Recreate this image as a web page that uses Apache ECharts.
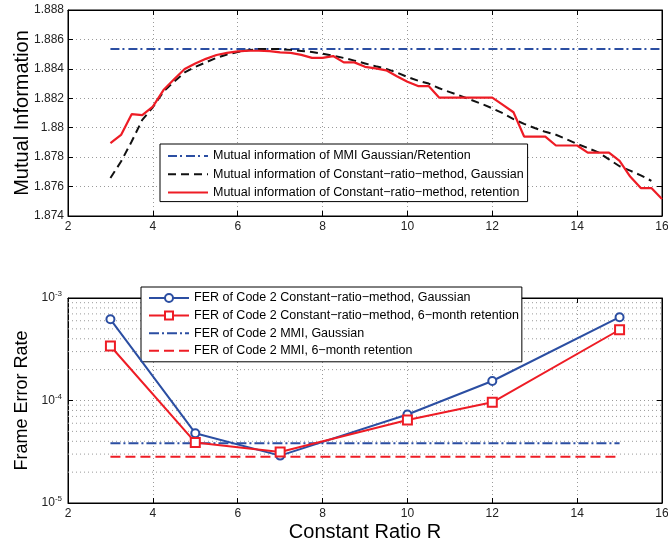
<!DOCTYPE html>
<html>
<head>
<meta charset="utf-8">
<script src="https://cdn.jsdelivr.net/npm/echarts@6/dist/echarts.min.js"></script>
<style>
  html, body { margin: 0; padding: 0; background: #fff; }
  #chart { width: 668px; height: 546px; }
</style>
</head>
<body>
<div id="chart"></div>
<script>
// top plot: mutual information vs constant ratio R (step 0.25)
const miX = [3, 3.25, 3.5, 3.75, 4, 4.25, 4.5, 4.75, 5, 5.25, 5.5, 5.75, 6, 6.25, 6.5, 6.75, 7, 7.25, 7.5, 7.75,
  8, 8.25, 8.5, 8.75, 9, 9.25, 9.5, 9.75, 10, 10.25, 10.5, 10.75, 11, 11.25, 11.5, 11.75, 12, 12.25, 12.5, 12.75,
  13, 13.25, 13.5, 13.75, 14, 14.25, 14.5, 14.75, 15, 15.25, 15.5, 15.75, 16]
const miRetention = [1.87895, 1.87951, 1.88092, 1.88085, 1.88143, 1.88256, 1.88329, 1.88399, 1.88437, 1.88468,
  1.88494, 1.88509, 1.88519, 1.88523, 1.88523, 1.8852, 1.88512, 1.88509, 1.88495, 1.88475,
  1.88475, 1.88487, 1.88444, 1.88444, 1.88414, 1.88403, 1.8839, 1.8835, 1.88313, 1.88283,
  1.88283, 1.88204, 1.88204, 1.88204, 1.88204, 1.88204, 1.88204, 1.88155, 1.88105, 1.8794,
  1.8794, 1.8794, 1.87879, 1.87879, 1.87879, 1.87831, 1.87831, 1.87831, 1.87775, 1.87668,
  1.8759, 1.8759, 1.87516]
const miGaussian = [1.87658, 1.8777, 1.87906, 1.88053, 1.88139, 1.88245, 1.88313, 1.88376, 1.88414, 1.88444,
  1.88475, 1.88498, 1.88514, 1.88527, 1.88535, 1.88536, 1.88534, 1.88529, 1.88522, 1.88514,
  1.88503, 1.88489, 1.88474, 1.88456, 1.88437, 1.88418, 1.884, 1.88375, 1.88345, 1.8832,
  1.883, 1.88268, 1.88242, 1.88216, 1.88189, 1.88162, 1.88132, 1.88098, 1.88058, 1.88026,
  1.87998, 1.87972, 1.87952, 1.87922, 1.8789, 1.87862, 1.87832, 1.87785, 1.87738, 1.87708,
  1.87676, 1.87639]
const miMmiX = [3, 16]
const miMmi = [1.88535, 1.88535]

// bottom plot: frame error rate
const ferX = [3, 5, 7, 10, 12, 15]
const ferGaussian = [6.2e-4, 4.8e-5, 2.9e-5, 7.3e-5, 1.55e-4, 6.5e-4]
const ferRetention = [3.4e-4, 3.9e-5, 3.15e-5, 6.45e-5, 9.6e-5, 4.9e-4]
const ferMmiX = [3, 15]
const ferMmiGaussian = [3.82e-5, 3.82e-5]
const ferMmiRetention = [2.83e-5, 2.83e-5]
// log-axis minor grid (2..9 per decade)
const ferMinorTicks = [2e-5, 3e-5, 4e-5, 5e-5, 6e-5, 7e-5, 8e-5, 9e-5, 2e-4, 3e-4, 4e-4, 5e-4, 6e-4, 7e-4, 8e-4, 9e-4]
const xRange = [2, 16]

const names = {
  miMmi: 'Mutual information of MMI Gaussian/Retention',
  miGauss: 'Mutual information of Constant\u2212ratio\u2212method, Gaussian',
  miRet: 'Mutual information of Constant\u2212ratio\u2212method, retention',
  ferGauss: 'FER of Code 2 Constant\u2212ratio\u2212method, Gaussian',
  ferRet: 'FER of Code 2 Constant\u2212ratio\u2212method, 6\u2212month retention',
  ferMmiGauss: 'FER of Code 2 MMI, Gaussian',
  ferMmiRet: 'FER of Code 2 MMI, 6\u2212month retention'
}

const FONT = '"Liberation Sans", Arial, Helvetica, sans-serif'
const BLUE = '#2b4ea2'
const RED = '#ee1c25'
const BLACK = '#111111'
const GRIDC = '#9a9a9a'

const zip = (xs, ys) => ys.map((y, i) => [xs[i], y])

const chart = echarts.init(document.getElementById('chart'))

const axisLine = { lineStyle: { color: '#000', width: 1 } }
const tick = { inside: true, length: 5, lineStyle: { color: '#000' } }
const grid = { show: true, lineStyle: { color: GRIDC, type: [1, 3], width: 1 } }
const label = { color: '#222', fontSize: 12, fontFamily: FONT }
const legendText = { fontSize: 12.5, lineHeight: 14, color: '#000', fontFamily: FONT }

function mirrorX(gridIndex) {
  return {
    gridIndex, type: 'value', min: 2, max: 16, interval: 2, position: 'top',
    axisLine, axisTick: tick, axisLabel: { show: false }, splitLine: { show: false }
  }
}

// dotted minor grid lines for the log axis, one thin series each
const minorGrid = ferMinorTicks.map((v) => ({
  type: 'line', xAxisIndex: 2, yAxisIndex: 2, symbol: 'none', silent: true, z: 1,
  lineStyle: { color: GRIDC, type: [1, 3], width: 1 },
  data: xRange.map((x) => [x, v])
}))

const options = {
  animation: false,
  backgroundColor: '#fff',
  textStyle: { fontFamily: FONT },
  grid: [
    { left: 68, top: 10, width: 594, height: 206, outerBoundsMode: 'none', show: true, borderColor: '#000', borderWidth: 1 },
    { left: 68, top: 298, width: 594, height: 205, outerBoundsMode: 'none', show: true, borderColor: '#000', borderWidth: 1 }
  ],
  legend: [
    {
      left: 160, top: 144, orient: 'vertical',
      padding: [5, 4, 2, 7], itemGap: 4.3, itemWidth: 40, itemHeight: 10,
      backgroundColor: '#fff', borderColor: '#000', borderWidth: 1, borderRadius: 0,
      textStyle: legendText,
      data: [
        { name: names.miMmi, itemStyle: { opacity: 0 } },
        { name: names.miGauss, itemStyle: { opacity: 0 } },
        { name: names.miRet, itemStyle: { opacity: 0 } }
      ]
    },
    {
      left: 141, top: 287, orient: 'vertical',
      padding: [4, 3, 4, 7], itemGap: 3.6, itemWidth: 40, itemHeight: 10,
      backgroundColor: '#fff', borderColor: '#000', borderWidth: 1, borderRadius: 0,
      textStyle: legendText,
      data: [
        { name: names.ferGauss },
        { name: names.ferRet },
        { name: names.ferMmiGauss, itemStyle: { opacity: 0 } },
        { name: names.ferMmiRet, itemStyle: { opacity: 0 } }
      ]
    }
  ],
  xAxis: [
    {
      gridIndex: 0, type: 'value', min: 2, max: 16, interval: 2,
      axisLine, axisTick: tick, splitLine: grid, axisLabel: { ...label, margin: 5 }
    },
    mirrorX(0),
    {
      gridIndex: 1, type: 'value', min: 2, max: 16, interval: 2,
      name: 'Constant Ratio R', nameLocation: 'middle', nameGap: 19,
      nameTextStyle: { fontSize: 20, color: '#000', fontFamily: FONT },
      axisLine, axisTick: tick, splitLine: grid, axisLabel: { ...label, margin: 5 }
    },
    mirrorX(1)
  ],
  yAxis: [
    {
      gridIndex: 0, type: 'value', min: 1.874, max: 1.888, interval: 0.002,
      name: 'Mutual Information', nameLocation: 'middle', nameGap: 36, nameMoveOverlap: false,
      nameTextStyle: { fontSize: 20, color: '#000', fontFamily: FONT },
      axisLine, axisTick: tick, splitLine: grid,
      axisLabel: { ...label, margin: 4, formatter: (v) => String(parseFloat(v.toFixed(3))) }
    },
    {
      gridIndex: 0, type: 'value', min: 1.874, max: 1.888, interval: 0.002, position: 'right',
      axisLine, axisTick: tick, axisLabel: { show: false }, splitLine: { show: false }
    },
    {
      gridIndex: 1, type: 'log', logBase: 10, min: 1e-5, max: 1e-3,
      name: 'Frame Error Rate', nameLocation: 'middle', nameGap: 37, nameMoveOverlap: false,
      nameTextStyle: { fontSize: 18, color: '#000', fontFamily: FONT },
      axisLine, axisTick: tick, splitLine: grid,
      axisLabel: {
        ...label, margin: 6,
        formatter: (v) => '{b|10}{s|' + Math.round(Math.log10(v)) + '}',
        rich: {
          b: { fontSize: 12, color: '#222', fontFamily: FONT },
          s: { fontSize: 8, color: '#222', fontFamily: FONT, padding: [0, 0, 8, 0] }
        }
      }
    },
    {
      gridIndex: 1, type: 'log', logBase: 10, min: 1e-5, max: 1e-3, position: 'right',
      axisLine, axisTick: tick, axisLabel: { show: false }, splitLine: { show: false }
    }
  ],
  series: [
    {
      name: names.miMmi, type: 'line', xAxisIndex: 0, yAxisIndex: 0, symbol: 'none',
      lineStyle: { color: BLUE, width: 2, type: [9, 3, 2, 4] }, itemStyle: { color: BLUE },
      data: zip(miMmiX, miMmi)
    },
    {
      name: names.miGauss, type: 'line', xAxisIndex: 0, yAxisIndex: 0, symbol: 'none',
      lineStyle: { color: BLACK, width: 2, type: [8, 5] }, itemStyle: { color: BLACK },
      data: zip(miX, miGaussian)
    },
    {
      name: names.miRet, type: 'line', xAxisIndex: 0, yAxisIndex: 0, symbol: 'none',
      lineStyle: { color: RED, width: 2.2 }, itemStyle: { color: RED },
      data: zip(miX, miRetention)
    },
    ...minorGrid,
    {
      name: names.ferGauss, type: 'line', xAxisIndex: 2, yAxisIndex: 2, z: 4,
      symbol: 'emptyCircle', symbolSize: 8,
      lineStyle: { color: BLUE, width: 2 }, itemStyle: { color: BLUE, borderWidth: 2 },
      data: zip(ferX, ferGaussian)
    },
    {
      name: names.ferRet, type: 'line', xAxisIndex: 2, yAxisIndex: 2, z: 4,
      symbol: 'emptyRect', symbolSize: 9,
      lineStyle: { color: RED, width: 2 }, itemStyle: { color: RED, borderWidth: 2 },
      data: zip(ferX, ferRetention)
    },
    {
      name: names.ferMmiGauss, type: 'line', xAxisIndex: 2, yAxisIndex: 2, symbol: 'none', z: 3,
      lineStyle: { color: BLUE, width: 2, type: [10, 3, 2, 3] }, itemStyle: { color: BLUE },
      data: zip(ferMmiX, ferMmiGaussian)
    },
    {
      name: names.ferMmiRet, type: 'line', xAxisIndex: 2, yAxisIndex: 2, symbol: 'none', z: 3,
      lineStyle: { color: RED, width: 2, type: [10, 5] }, itemStyle: { color: RED },
      data: zip(ferMmiX, ferMmiRetention)
    }
  ]
}

chart.setOption(options)
</script>
</body>
</html>
